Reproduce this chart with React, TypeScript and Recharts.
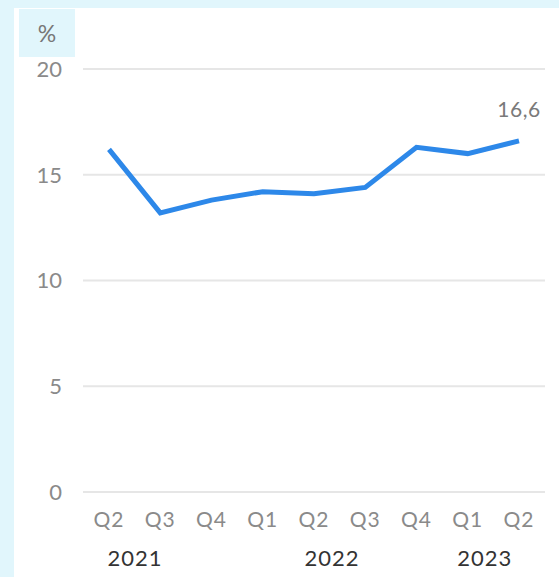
import { LineChart, Line, XAxis, YAxis, CartesianGrid, LabelList } from 'recharts'

const quarters = ['Q2', 'Q3', 'Q4', 'Q1', 'Q2', 'Q3', 'Q4', 'Q1', 'Q2']
const years = ['2021', '', '', '', '2022', '', '', '2023', '']
const values = [16.2, 13.2, 13.8, 14.2, 14.1, 14.4, 16.3, 16.0, 16.6]
const yTicks = [0, 5, 10, 15, 20]

const data = quarters.map((q, i) => ({ q, year: years[i], value: values[i] }))

const FONT = 'Lato, "Noto Sans", sans-serif'
const YEAR_SHIFT: Record<string, number> = { '2021': 26, '2022': 18, '2023': 17 }

function QuarterTick({ x, y, payload, index }: any) {
  const year = years[index]
  return (
    <g>
      <text x={x} y={y} dy={35} textAnchor="middle" fill="#8a8a8a" fontSize={21} fontFamily={FONT} letterSpacing={1}>
        {payload.value}
      </text>
      {year && (
        <text x={x + YEAR_SHIFT[year]} y={y} dy={74} textAnchor="middle" fill="#333" fontSize={22} fontFamily={FONT} letterSpacing={1}>
          {year}
        </text>
      )}
    </g>
  )
}

function LastLabel({ x, y, value, index }: any) {
  if (index !== values.length - 1) return null
  return (
    <text x={x} y={y} dy={-24} textAnchor="middle" fill="#7a7a7a" fontSize={21} fontFamily={FONT} letterSpacing={0.5}>
      {String(value).replace('.', ',')}
    </text>
  )
}

export default function App() {
  return (
    <div style={{ position: 'fixed', left: 0, top: 0, width: 559, height: 577, background: '#e1f6fc', overflow: 'hidden' }}>
      <div style={{ position: 'absolute', left: 14, top: 8, width: 545, height: 569, background: '#fff' }} />
      <div
        style={{
          position: 'absolute', left: 19, top: 9, width: 56, height: 48, background: '#e1f6fc',
          display: 'flex', alignItems: 'center', justifyContent: 'center',
          fontFamily: FONT, fontSize: 23, color: '#777',
        }}
      >
        %
      </div>
      <div style={{ position: 'absolute', left: 0, top: 0 }}>
        <LineChart width={559} height={577} data={data} margin={{ top: 69, right: 14, bottom: 0, left: 0 }}>
          <CartesianGrid vertical={false} stroke="#e6e6e6" strokeWidth={2} />
          <XAxis
            dataKey="q"
            padding={{ left: 26, right: 26 }}
            height={85}
            axisLine={false}
            tickLine={false}
            tickSize={0}
            tickMargin={0}
            interval={0}
            tick={<QuarterTick />}
          />
          <YAxis
            width={83}
            domain={[0, 20]}
            ticks={yTicks}
            axisLine={false}
            tickLine={false}
            tickSize={0}
            tickMargin={21}
            tick={{ fill: '#8a8a8a', fontSize: 22, fontFamily: FONT }}
          />
          <Line
            type="linear"
            dataKey="value"
            stroke="#2d88e9"
            strokeWidth={5}
            dot={false}
            activeDot={false}
            isAnimationActive={false}
          >
            <LabelList dataKey="value" content={<LastLabel />} />
          </Line>
        </LineChart>
      </div>
    </div>
  )
}
